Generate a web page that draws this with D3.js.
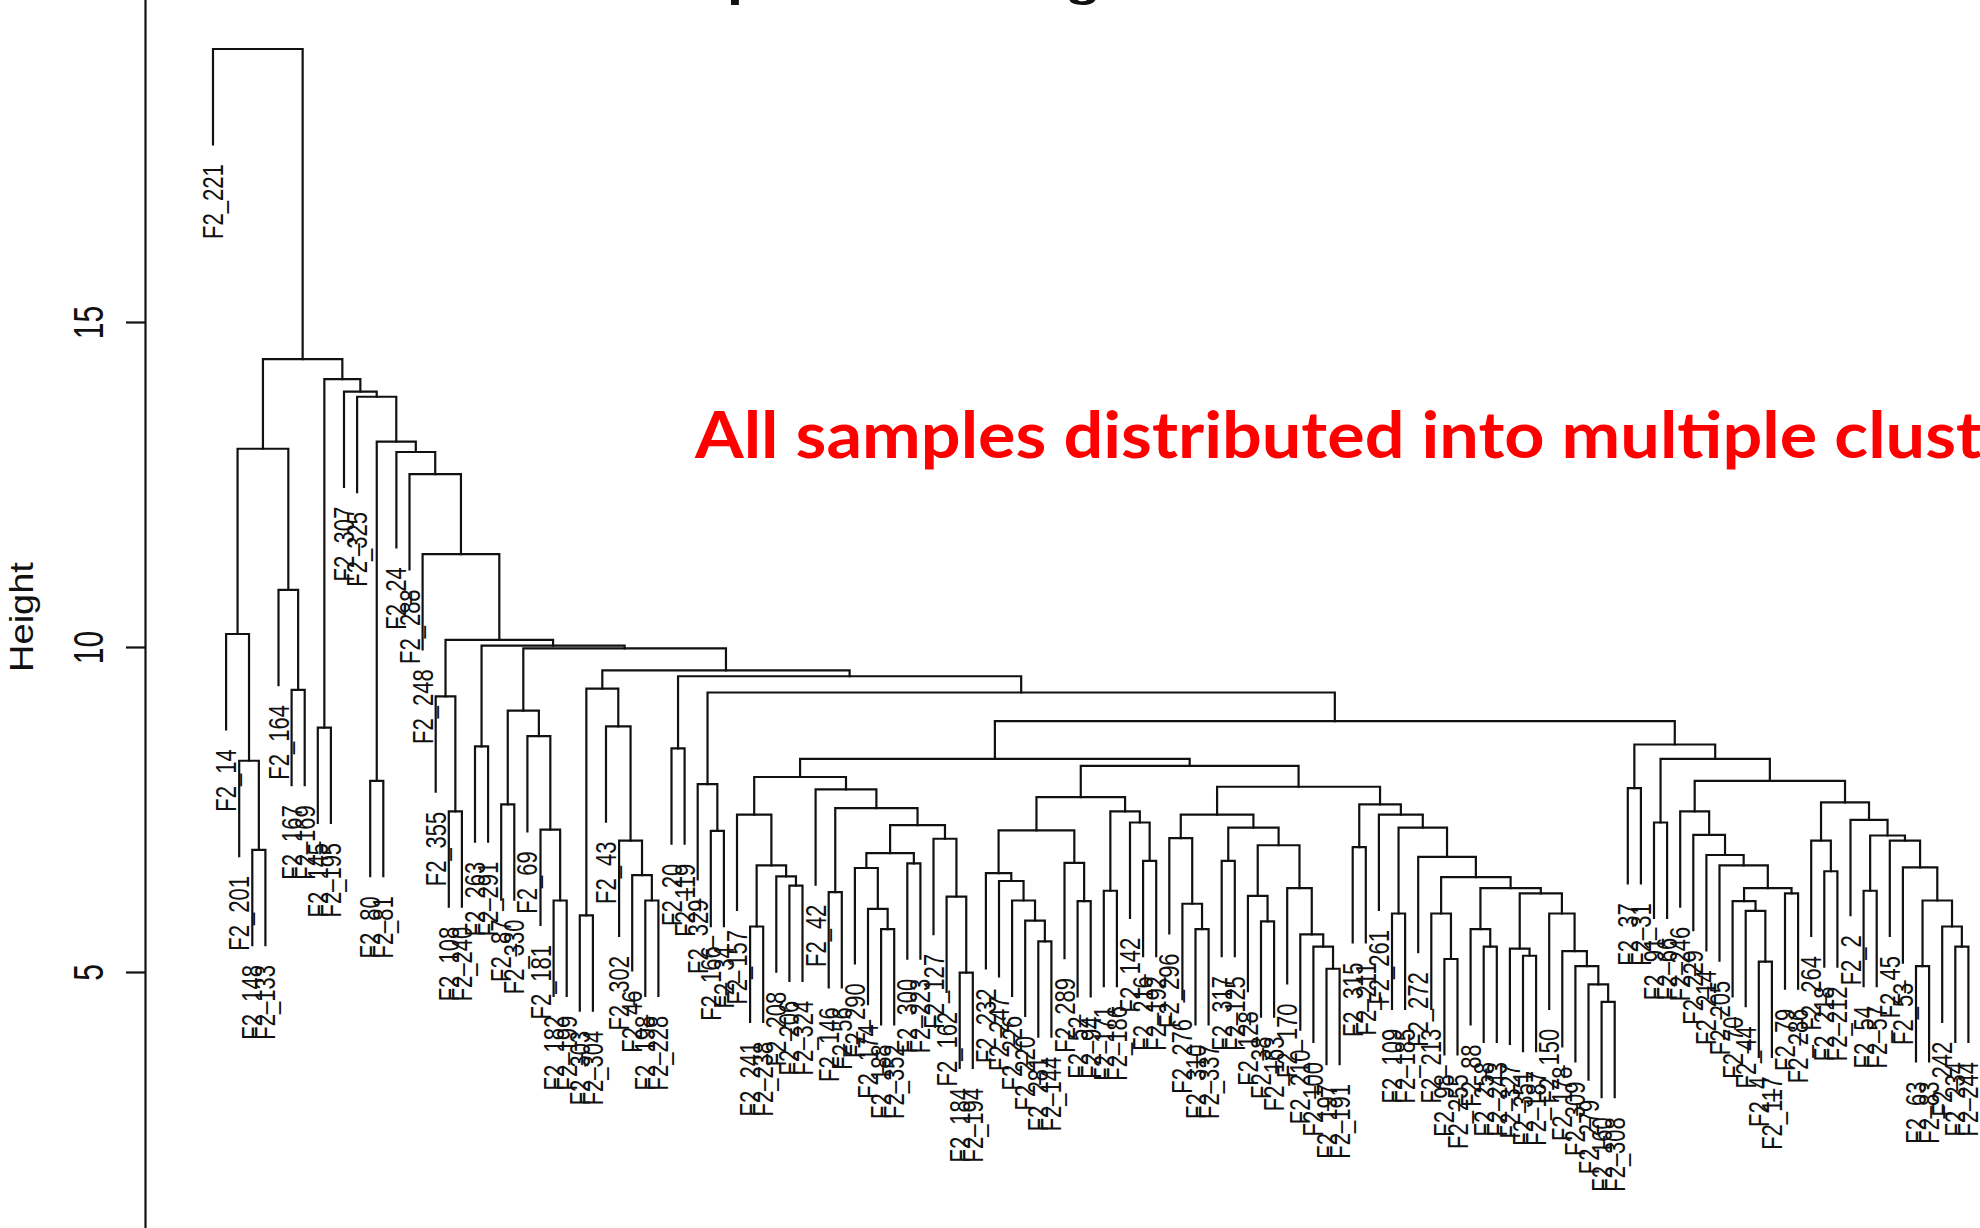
<!DOCTYPE html>
<html>
<head>
<meta charset="utf-8">
<script src="https://cdn.jsdelivr.net/npm/d3@7"></script>
<style>
  html, body { margin: 0; padding: 0; background: #fff; overflow: hidden; }
  svg { display: block; }
</style>
</head>
<body>
<svg id="chart" width="1980" height="1228"></svg>
<script>
// Sample labels in dendrogram (left-to-right) order
const leafLabels = [
  "F2_221","F2_14","F2_201","F2_148","F2_133","F2_164","F2_167","F2_169","F2_145","F2_195",
  "F2_307","F2_325","F2_80","F2_81","F2_24","F2_288","F2_248","F2_355","F2_108","F2_240",
  "F2_263","F2_291","F2_87","F2_330","F2_69","F2_181","F2_182","F2_199","F2_303","F2_304",
  "F2_43","F2_302","F2_46","F2_198","F2_228","F2_20","F2_119","F2_329","F2_166","F2_34",
  "F2_157","F2_241","F2_238","F2_208","F2_206","F2_324","F2_42","F2_146","F2_56","F2_290",
  "F2_174","F2_188","F2_352","F2_300","F2_223","F2_127","F2_162","F2_184","F2_194","F2_232",
  "F2_247","F2_226","F2_220","F2_281","F2_144","F2_289","F2_52","F2_94","F2_171","F2_186",
  "F2_142","F2_216","F2_192","F2_296","F2_276","F2_310","F2_337","F2_317","F2_125","F2_128",
  "F2_38","F2_163","F2_170","F2_210","F2_100","F2_197","F2_191","F2_315","F2_211","F2_261",
  "F2_109","F2_185","F2_272","F2_213","F2_98","F2_255","F2_88","F2_258","F2_243","F2_327",
  "F2_351","F2_187","F2_150","F2_178","F2_309","F2_279","F2_160","F2_308","F2_37","F2_31",
  "F2_91","F2_66","F2_246","F2_229","F2_214","F2_205","F2_70","F2_44","F2_4","F2_117",
  "F2_79","F2_286","F2_264","F2_218","F2_212","F2_2","F2_54","F2_57","F2_45","F2_53",
  "F2_63","F2_83","F2_242","F2_234","F2_244"
];

// hclust-style merge table: negative = leaf (1-based position in leafLabels),
// positive = earlier merge row (1-based)
const mergePairs = [
  [-4,-5],[-3,1],[-2,2],[-7,-8],[-6,4],[3,5],[-9,-10],[-13,-14],[-19,-20],[-18,9],
  [-21,-22],[-23,-24],[-27,-28],[-26,13],[-25,14],[12,15],[-29,-30],[-34,-35],[-33,18],[-32,19],
  [-31,20],[17,21],[-36,-37],[-39,-40],[-38,24],[-42,-43],[-45,-46],[-44,27],[26,28],[-41,29],
  [-48,-49],[-52,-53],[-51,32],[-50,33],[-54,-55],[34,35],[-58,-59],[-57,37],[-56,38],[36,39],
  [31,40],[-47,41],[30,42],[-64,-65],[-63,44],[-62,45],[-61,46],[-60,47],[-67,-68],[-66,49],
  [48,50],[-69,-70],[-72,-73],[-71,53],[52,54],[51,55],[-76,-77],[-75,57],[-74,58],[-78,-79],
  [-81,-82],[-80,61],[-86,-87],[-85,63],[-84,64],[-83,65],[62,66],[60,67],[59,68],[-88,-89],
  [-91,-92],[-95,-96],[-94,72],[-98,-99],[-97,74],[-101,-102],[-100,76],[-107,-108],[-106,78],[-105,79],
  [-104,80],[-103,81],[77,82],[75,83],[73,84],[-93,85],[71,86],[-90,87],[70,88],[69,89],
  [56,90],[43,91],[-109,-110],[-111,-112],[-119,-120],[-118,95],[-117,96],[-121,-122],[97,98],[-116,99],
  [-115,100],[-114,101],[-113,102],[-124,-125],[-123,104],[-127,-128],[-131,-132],[-134,-135],[-133,108],[107,109],
  [-130,110],[-129,111],[106,112],[-126,113],[105,114],[103,115],[94,116],[93,117],[92,118],[25,119],
  [23,120],[22,121],[16,122],[11,123],[10,124],[-17,125],[-16,126],[-15,127],[8,128],[-12,129],
  [-11,130],[7,131],[6,132],[-1,133]
];

// Merge heights, one per row of mergePairs
const mergeHeights = [
  6.88, 8.25, 10.2, 9.34, 10.88, 13.05, 8.76, 7.94, 7.47, 9.24,
  8.47, 7.58, 6.1, 7.19, 8.63, 9.02, 5.87, 6.1, 6.49, 7.02,
  8.78, 9.36, 8.44, 7.17, 7.89, 5.7, 6.33, 6.47, 6.64, 7.42,
  6.23, 5.66, 5.97, 6.6, 6.67, 6.83, 4.99, 6.16, 7.05, 7.26,
  7.52, 7.81, 8.0, 5.47, 5.79, 6.1, 6.4, 6.52, 6.09, 6.68,
  7.18, 6.25, 6.71, 7.3, 7.47, 7.69, 5.66, 6.05, 7.06, 6.71,
  5.78, 6.17, 5.05, 5.39, 5.58, 6.29, 6.95, 7.22, 7.42, 6.92,
  5.9, 5.2, 5.9, 5.39, 5.66, 5.25, 5.36, 4.54, 4.81, 5.09,
  5.32, 5.9, 6.21, 6.29, 6.46, 6.77, 7.22, 7.42, 7.58, 7.85,
  8.17, 8.28, 7.83, 7.3, 5.16, 5.94, 6.09, 6.21, 6.29, 6.64,
  6.8, 7.11, 7.47, 6.55, 7.02, 6.25, 5.09, 5.39, 5.7, 6.1,
  6.61, 7.02, 7.1, 7.34, 7.61, 7.94, 8.28, 8.5, 8.86, 9.3,
  9.55, 9.64, 9.98, 10.02, 10.11, 11.43, 12.66, 13.0, 13.16, 13.85,
  13.93, 14.12, 14.43, 19.2
];

const yTickValues = [5, 10, 15];
const axisTitle = "Height";
const mainTitle = "Sample clustering to detect outliers";
const annotation = "All samples distributed into multiple clusters";

const W = 1980, H = 1228;
const ink = "#111";
const svg = d3.select("#chart");
svg.append("rect").attr("width", W).attr("height", H).attr("fill", "#fff");

const x = d3.scaleLinear().domain([1, leafLabels.length]).range([213, 1968.4]);
const y = d3.scaleLinear().domain([0, 20]).range([1297, -3]);

// Build the nested tree from the merge table
const built = [];
const ref = k => k < 0 ? { label: leafLabels[-k - 1], order: -k } : built[k - 1];
mergePairs.forEach((p, i) => {
  built.push({ height: mergeHeights[i], children: [ref(p[0]), ref(p[1])] });
});
const root = d3.hierarchy(built[built.length - 1]);

// leaves hang a tenth of the height range below their parent merge
const hang = 0.1 * (d3.max(mergeHeights) - d3.min(mergeHeights));

root.eachAfter(n => {
  n.px = n.children ? (n.children[0].px + n.children[1].px) / 2 : x(n.data.order);
});
const lowY = c => c.children ? y(c.data.height) : y(c.parent.data.height - hang);

// Main title (sits above the plot)
const title = svg.append("text")
  .attr("font-family", "Liberation Sans, Arial, sans-serif")
  .attr("font-weight", 700)
  .attr("font-size", 41)
  .attr("fill", ink)
  .text(mainTitle);
{
  const node = title.node();
  const pi = mainTitle.indexOf("p"), gi = mainTitle.indexOf("g");
  const pStem = node.getStartPositionOfChar(pi).x + 0.07 * 41;
  const gMid = (node.getStartPositionOfChar(gi).x + node.getEndPositionOfChar(gi).x) / 2;
  const sx = (1083 - 731) / (gMid - pStem);
  title.attr("transform", `translate(${731 - sx * pStem},-3.5) scale(${sx},1)`);
}

// Dendrogram branches
const g = svg.append("g").attr("fill", "none").attr("stroke", ink)
  .attr("stroke-width", 2.2).attr("stroke-linecap", "square");
g.selectAll("path")
  .data(root.descendants().filter(n => n.children))
  .join("path")
  .attr("d", n => {
    const [l, r] = n.children;
    return `M${l.px},${lowY(l)}V${y(n.data.height)}H${r.px}V${lowY(r)}`;
  });

// Leaf labels, rotated and hanging below each leaf
svg.append("g")
  .attr("font-family", "Liberation Sans, Arial, sans-serif")
  .attr("font-size", 22)
  .attr("fill", ink)
  .selectAll("text")
  .data(root.leaves())
  .join("text")
  .attr("text-anchor", "end")
  .attr("dy", "0.35em")
  .attr("transform", d => `translate(${d.px},${lowY(d) + 20}) scale(1.3,1) rotate(-90)`)
  .text(d => d.data.label);

// Y axis
const gAxis = svg.append("g")
  .attr("transform", "translate(145,0)")
  .call(d3.axisLeft(y).tickValues(yTickValues).tickSize(19).tickSizeOuter(0).tickFormat(d3.format("d")));
gAxis.select(".domain").attr("stroke", ink).attr("stroke-width", 2.2);
gAxis.selectAll(".tick line").attr("stroke", ink).attr("stroke-width", 2.2);
gAxis.selectAll(".tick text")
  .attr("x", null)
  .attr("dy", "0.35em")
  .attr("text-anchor", "middle")
  .attr("font-size", 30)
  .attr("font-family", "Liberation Sans, Arial, sans-serif")
  .attr("fill", ink)
  .attr("transform", "translate(-57,0) scale(1.4,1) rotate(-90)");

svg.append("text")
  .attr("font-family", "Liberation Sans, Arial, sans-serif")
  .attr("font-size", 38)
  .attr("fill", ink)
  .attr("text-anchor", "middle")
  .attr("dy", "0.35em")
  .attr("transform", "translate(22,617) scale(0.85,1) rotate(-90)")
  .text(axisTitle);

// Red annotation across the plot
const ann = svg.append("text")
  .attr("font-family", "Lato, 'Open Sans', sans-serif")
  .attr("font-weight", 700)
  .attr("font-size", 65)
  .attr("fill", "#ff0000")
  .text(annotation);
{
  const cut = annotation.indexOf("clust") + 5;
  const len = ann.node().getSubStringLength(0, cut);
  const sx = (1982 - 695) / len;
  ann.attr("transform", `translate(695,458) scale(${sx},1)`);
}
</script>
</body>
</html>
